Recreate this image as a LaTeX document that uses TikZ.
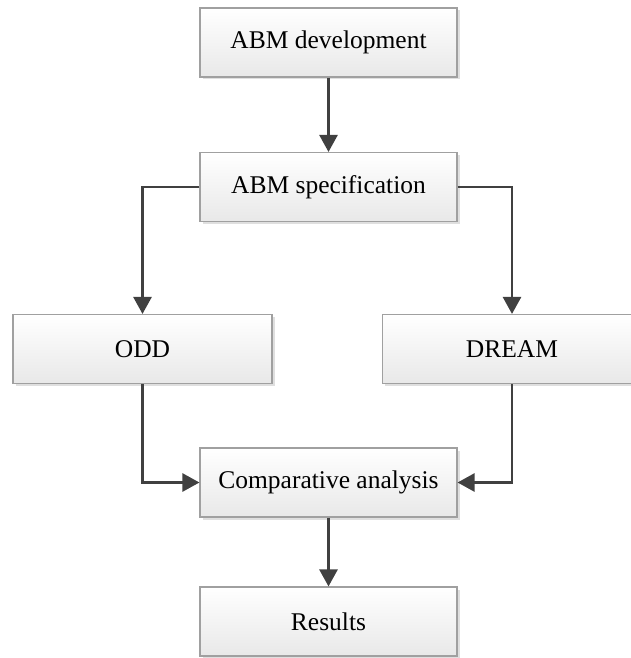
\documentclass[tikz,border=0pt]{standalone}
\usepackage{fontspec}
\setmainfont{Liberation Serif}
\usetikzlibrary{arrows.meta,shadows,shadings}
\definecolor{arrc}{HTML}{404040}
\definecolor{boxb}{HTML}{A0A0A0}
\tikzset{
  box/.style={draw=boxb, line width=1.1pt, top color=white, bottom color=black!9,
    minimum height=69pt, inner sep=0pt, font=\fontsize{25.5}{30}\selectfont,
    drop shadow={shadow xshift=2.5pt, shadow yshift=-2.5pt, fill=black!25, opacity=0.5}},
  arr/.style={draw=arrc, line width=2.6pt, -{Triangle[length=17pt,width=18pt]}}
}
\begin{document}
\begin{tikzpicture}[x=1pt,y=-1pt]
\useasboundingbox (0,0) rectangle (630,658);
\node[box, minimum width=257pt] (dev) at (328.5,42.5) {ABM development};
\node[box, minimum width=257pt] (spec) at (328.5,187) {ABM specification};
\node[box, minimum width=259pt] (odd) at (142.5,349) {ODD};
\node[box, minimum width=259pt] (dream) at (512,349) {DREAM};
\node[box, minimum width=257pt] (comp) at (328.5,482.5) {Comparative analysis};
\node[box, minimum width=257pt] (res) at (328.5,621.5) {Results};
\draw[arr] (dev.south) -- (spec.north);
\draw[arr] (spec.west) -| (odd.north);
\draw[arr] (spec.east) -| (dream.north);
\draw[arr] (odd.south) |- (comp.west);
\draw[arr] (dream.south) |- (comp.east);
\draw[arr] (comp.south) -- (res.north);
\end{tikzpicture}
\end{document}
